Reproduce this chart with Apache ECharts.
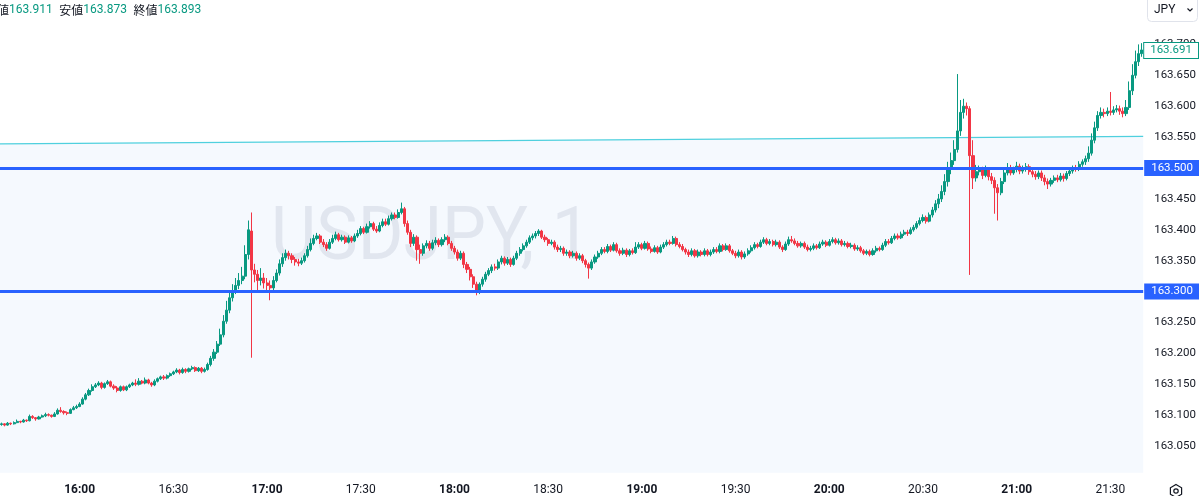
<!DOCTYPE html>
<html><head><meta charset="utf-8">
<script src="https://cdn.jsdelivr.net/npm/echarts@6/dist/echarts.min.js"></script>
<style>html,body{margin:0;padding:0;background:#fff}#c{width:1199px;height:496px}</style>
</head><body><div id="c"></div>
<script>
// price values in thousandths above 163.000 (USDJPY 1-minute, 15:35 .. 21:40)
const BASE = 163;
const opens = [
85,86,84,87,86,88,90,89,92,91, 98,96,94,97,99,101,100,98,102,108,
106,104,103,109,112,114,118,126,133,140, 146,149,152,145,151,154,147,144,140,146,
141,146,149,152,150,155,152,157,152,149, 155,159,162,160,164,167,170,173,169,174,
171,175,177,172,176,171,174,182,192,202, 215,230,252,270,290,300,310,318,325,360,
398,335,328,318,322,314,310,306,318,330, 345,355,362,358,352,348,346,350,358,368,
378,386,390,380,376,370,380,386,392,384, 388,380,387,382,390,394,402,396,405,410,
401,398,407,413,409,418,424,420,428,434, 410,396,378,388,368,362,374,378,370,379,
383,376,384,388,378,370,364,354,362,344, 336,324,312,302,312,320,328,334,340,338,
348,354,346,352,344,354,362,368,374,380, 387,390,394,398,388,384,378,380,372,368,
370,362,364,358,362,354,358,350,344,338, 348,356,362,368,365,373,367,376,366,362,
367,360,366,363,372,376,370,378,369,365, 371,364,372,376,380,378,386,376,373,368,
364,360,366,358,364,360,366,360,364,368, 365,374,368,374,366,362,358,364,356,361,
366,371,376,373,380,384,378,381,376,380, 372,368,377,384,382,378,374,378,372,368,
370,374,371,377,380,375,381,384,379,382, 376,378,373,375,369,371,366,362,365,360,
366,370,368,375,381,379,386,390,387,393, 396,394,400,404,410,415,420,414,424,432,
442,450,462,478,498,512,530,560,590,600, 596,520,484,494,498,488,497,486,480,468,
460,478,492,500,492,498,503,495,499,502, 494,490,486,492,484,478,474,480,484,481,
487,483,491,495,500,498,506,510,515,524, 545,565,585,590,588,592,590,594,596,592,
588,598,625,650,672,685];
const closes = [
86,84,87,86,88,90,89,92,91,98, 96,94,97,99,101,100,98,102,108,106,
104,103,109,112,114,118,126,133,140,146, 149,152,145,151,154,147,144,140,146,141,
146,149,152,150,155,152,157,152,149,155, 159,162,160,164,167,170,173,169,174,171,
175,177,172,176,171,174,182,192,202,215, 230,252,270,290,300,310,318,325,360,400,
335,328,318,322,314,310,306,318,330,345, 355,362,358,352,348,346,350,358,368,378,
386,390,380,376,370,380,386,392,384,388, 380,387,382,390,394,402,396,405,410,401,
398,407,413,409,418,424,420,428,434,410, 396,378,388,368,362,374,378,370,379,383,
376,384,388,378,370,364,354,362,344,336, 324,312,302,312,320,328,334,340,338,348,
354,346,352,344,354,362,368,374,380,387, 390,394,398,388,384,378,380,372,368,370,
362,364,358,362,354,358,350,344,338,348, 356,362,368,365,373,367,376,366,362,367,
360,366,363,372,376,370,378,369,365,371, 364,372,376,380,378,386,376,373,368,364,
360,366,358,364,360,366,360,364,368,365, 374,368,374,366,362,358,364,356,361,366,
371,376,373,380,384,378,381,376,380,372, 368,377,384,382,378,374,378,372,368,370,
374,371,377,380,375,381,384,379,382,376, 378,373,375,369,371,366,362,365,360,366,
370,368,375,381,379,386,390,387,393,396, 394,400,404,410,415,420,414,424,432,442,
450,462,478,498,512,530,560,590,600,596, 520,484,494,498,488,497,486,480,468,460,
478,492,500,492,498,503,495,499,502,494, 490,486,492,484,478,474,480,484,481,487,
483,491,495,500,498,506,510,515,524,545, 565,585,590,588,592,590,594,596,592,588,
598,625,650,672,685,691];
const lows = [
83,82,83,84,85,87,87,88,89,90, 94,91,93,96,97,98,96,97,101,104,
101,100,102,108,110,113,117,124,131,138, 144,147,142,143,149,145,141,137,138,139,
139,144,147,147,148,150,150,150,146,147, 153,157,157,158,162,165,168,166,167,168,
169,173,170,170,168,169,172,179,188,199, 212,226,248,265,284,296,304,312,320,352,
193,315,300,310,305,300,286,302,315,326, 340,350,352,346,342,341,343,347,355,365,
375,383,377,372,366,368,377,383,381,381, 377,378,379,380,387,391,393,394,402,398,
395,396,404,406,407,415,417,418,425,405, 392,372,374,350,345,358,370,366,367,375,
372,373,380,375,366,360,350,351,338,330, 318,306,294,296,308,316,325,330,334,335,
344,342,343,340,342,351,358,365,371,377, 383,386,390,385,380,374,375,368,364,364,
358,358,354,355,350,351,346,339,321,335, 345,353,359,362,362,364,365,363,358,359,
356,357,360,361,369,367,368,366,362,363, 361,362,369,373,375,376,373,370,365,360,
356,357,355,355,357,357,357,357,361,362, 362,365,366,363,359,354,355,352,353,358,
363,368,370,371,377,375,375,373,373,369, 364,366,374,379,375,371,371,369,365,365,
367,368,369,374,372,373,378,376,376,373, 373,370,370,366,366,363,359,359,357,358,
363,365,366,372,376,377,383,384,385,390, 390,392,397,401,407,412,410,412,420,428,
435,445,456,470,490,505,525,552,580,585, 327,466,478,488,482,485,480,474,426,415,
456,474,488,488,489,493,490,491,494,489, 485,481,482,479,472,466,470,476,477,478,
478,480,487,491,494,495,502,505,510,520, 540,560,580,582,584,585,586,590,586,582,
584,594,618,645,665,680];
const highs = [
88,87,89,88,90,93,91,94,93,101, 100,97,99,101,104,103,101,105,111,113,
108,106,111,115,117,121,129,136,143,150, 152,155,154,153,157,156,150,147,148,148,
148,151,154,158,160,157,161,159,154,158, 161,164,165,166,169,172,176,175,177,176,
177,180,179,178,178,177,185,196,207,220, 240,262,285,300,312,322,330,340,375,415,
428,345,335,338,330,322,318,325,336,352, 362,368,366,362,356,353,355,362,374,386,
392,395,393,385,380,385,392,397,395,392, 391,391,390,394,400,406,405,410,414,413,
406,412,418,418,423,428,428,433,444,437, 415,400,393,391,376,378,383,382,384,388,
386,388,393,391,382,374,368,366,365,348, 340,328,316,315,324,332,338,344,345,352,
358,357,356,355,358,366,372,378,384,391, 394,398,401,400,392,387,384,383,376,374,
373,368,367,366,365,362,361,353,347,352, 360,366,372,372,377,376,380,379,370,371,
370,369,370,380,380,379,382,381,373,375, 374,376,380,384,384,390,389,380,377,371,
368,370,369,368,367,370,369,368,372,372, 378,377,378,377,369,366,368,367,365,370,
375,380,379,384,388,387,385,384,384,383, 375,381,389,390,386,382,381,381,376,374,
378,377,381,384,383,385,388,387,386,385, 382,381,379,378,375,374,369,368,368,370,
374,373,379,385,385,390,394,394,397,400, 400,404,408,414,420,425,423,428,437,448,
458,472,490,510,525,545,652,610,612,606, 600,545,505,504,502,504,500,492,485,474,
484,497,508,505,502,510,507,504,508,506, 500,495,496,496,489,483,484,488,489,492,
491,495,500,504,505,511,514,520,535,556, 575,592,598,596,598,623,600,602,601,598,
610,640,668,690,700,702];
const startMinute = 15 * 60 + 35, candleCount = opens.length;
const times = [];
for (let k = 0; k < candleCount; k++) {
  const m = startMinute + k;
  times.push(String(Math.floor(m / 60)).padStart(2, '0') + ':' + String(m % 60).padStart(2, '0'));
}
const levels = [163.5, 163.3];          // horizontal support/resistance lines
const lastPrice = 163.691;
const trendStart = 163.539, trendEnd = 163.551;  // cyan trend line
const zoneBottom = 163.007;
const header = { high: '163.911', low: '163.873', close: '163.893' };
const yMin = 163.0, yMax = 163.75, yStep = 0.05;

const toPrice = v => +(BASE + v / 1000).toFixed(3);
const ohlc = opens.map((o, k) => [toPrice(o), toPrice(closes[k]), toPrice(lows[k]), toPrice(highs[k])]);

const UP = '#089981', DOWN = '#f23645', BLUE = '#2962ff', TXT = '#131722';
const FONT = 'Roboto, "Noto Sans", sans-serif';

const chart = echarts.init(document.getElementById('c'), null, { renderer: 'canvas' });
chart.setOption({
  animation: false,
  backgroundColor: '#ffffff',
  grid: { left: 0, right: 55, top: 13.5, bottom: 13.75 },
  xAxis: {
    type: 'category', data: times, boundaryGap: true,
    axisLine: { show: false }, axisTick: { show: false }, splitLine: { show: false },
    axisLabel: {
      interval: (idx, val) => val.endsWith(':00') || val.endsWith(':30'),
      margin: 7, fontSize: 12, fontFamily: FONT, color: TXT,
      formatter: v => v.endsWith(':00') ? '{h|' + v + '}' : '{m|' + v + '}',
      rich: { h: { fontWeight: 'bold', fontSize: 12, fontFamily: FONT, color: TXT },
              m: { fontSize: 12, fontFamily: FONT, color: TXT } }
    }
  },
  yAxis: {
    type: 'value', position: 'right', min: yMin, max: yMax, interval: yStep, scale: true,
    axisLine: { show: false }, axisTick: { show: false }, splitLine: { show: false },
    axisLabel: { margin: 11, fontSize: 11.5, fontFamily: FONT, color: TXT,
      showMinLabel: false, showMaxLabel: false, formatter: v => v.toFixed(3) }
  },
  graphic: [
    { type: 'text', z: 1, x: 271, y: 203, scaleX: 0.93, silent: true,
      style: { text: 'USDJPY, 1', fontSize: 75, fontFamily: FONT, fontWeight: 'normal', fill: 'rgba(165,172,192,0.24)' } },
    { type: 'text', z: 10, x: -15, y: 4,
      style: { rich: { k: { fontSize: 12, fontFamily: '"Noto Sans CJK JP", sans-serif', fill: TXT },
                       v: { fontSize: 12, fontFamily: FONT, fill: UP } },
               text: '{k|高値}{v|' + header.high + '}  {k|安値}{v|' + header.low + '}  {k|終値}{v|' + header.close + '}' } },
    { type: 'rect', z: 10, shape: { x: 1147.5, y: -4.5, width: 50, height: 26, r: 4 },
      style: { fill: '#fff', stroke: '#e0e3eb', lineWidth: 1 } },
    { type: 'text', z: 11, x: 1154, y: 4, style: { text: 'JPY', fontSize: 12, fontFamily: FONT, fill: TXT } },
    { type: 'polyline', z: 11, shape: { points: [[1187.5, 8.5], [1190, 11], [1192.5, 8.5]] },
      style: { stroke: TXT, lineWidth: 1.2, fill: null } },
    { type: 'polygon', z: 11, shape: { points: [[1176, 484.5], [1181.6, 487.8], [1181.6, 494.2], [1176, 497.5], [1170.4, 494.2], [1170.4, 487.8]] },
      style: { stroke: TXT, lineWidth: 1.2, fill: null } },
    { type: 'circle', z: 11, shape: { cx: 1176, cy: 491, r: 2.2 }, style: { stroke: TXT, lineWidth: 1.2, fill: null } }
  ],
  series: [
    {
      type: 'custom', z: 0, silent: true,
      data: [[0, trendStart, candleCount - 1, trendEnd, zoneBottom]],
      encode: { x: [0, 2], y: [1, 3, 4] },
      renderItem: (params, api) => {
        const bw = api.size([1, 0])[0];
        const a = api.coord([api.value(0), api.value(1)]);
        const b = api.coord([api.value(2), api.value(3)]);
        const bot = api.coord([api.value(0), api.value(4)])[1];
        const slope = (b[1] - a[1]) / (b[0] - a[0]);
        const x0 = a[0] - bw / 2, x1 = b[0] + bw / 2;
        const y0 = a[1] - slope * bw / 2, y1 = b[1] + slope * bw / 2;
        return { type: 'group', children: [
          { type: 'polygon', shape: { points: [[x0, y0], [x1, y1], [x1, bot], [x0, bot]] },
            style: { fill: '#f5f9fe' } },
          { type: 'line', z2: 5, shape: { x1: x0, y1: y0, x2: x1, y2: y1 },
            style: { stroke: '#4fd0de', lineWidth: 1.3 } }
        ] };
      }
    },
    {
      type: 'candlestick', z: 2, data: ohlc, barWidth: 2.6,
      itemStyle: { color: UP, color0: DOWN, borderColor: UP, borderColor0: DOWN, borderWidth: 1 },
      markLine: {
        symbol: 'none', silent: true, animation: false,
        data: [
          ...levels.map(p => ({ yAxis: p,
            lineStyle: { color: BLUE, width: 3, type: 'solid' },
            label: { show: true, position: 'end', distance: 1, formatter: p.toFixed(3),
              backgroundColor: BLUE, color: '#fff', padding: [2, 7, 2, 7], fontSize: 11.5, fontFamily: FONT, lineHeight: 12 } })),
          { yAxis: lastPrice, lineStyle: { color: 'rgba(0,0,0,0)', width: 1, type: 'solid' },
            label: { show: true, position: 'end', distance: 1, formatter: lastPrice.toFixed(3),
              backgroundColor: '#fff', borderColor: UP, borderWidth: 1, color: UP,
              padding: [2, 6, 1, 6], fontSize: 11.5, fontFamily: FONT, lineHeight: 12 } }
        ]
      }
    }
  ]
});
</script></body></html>
